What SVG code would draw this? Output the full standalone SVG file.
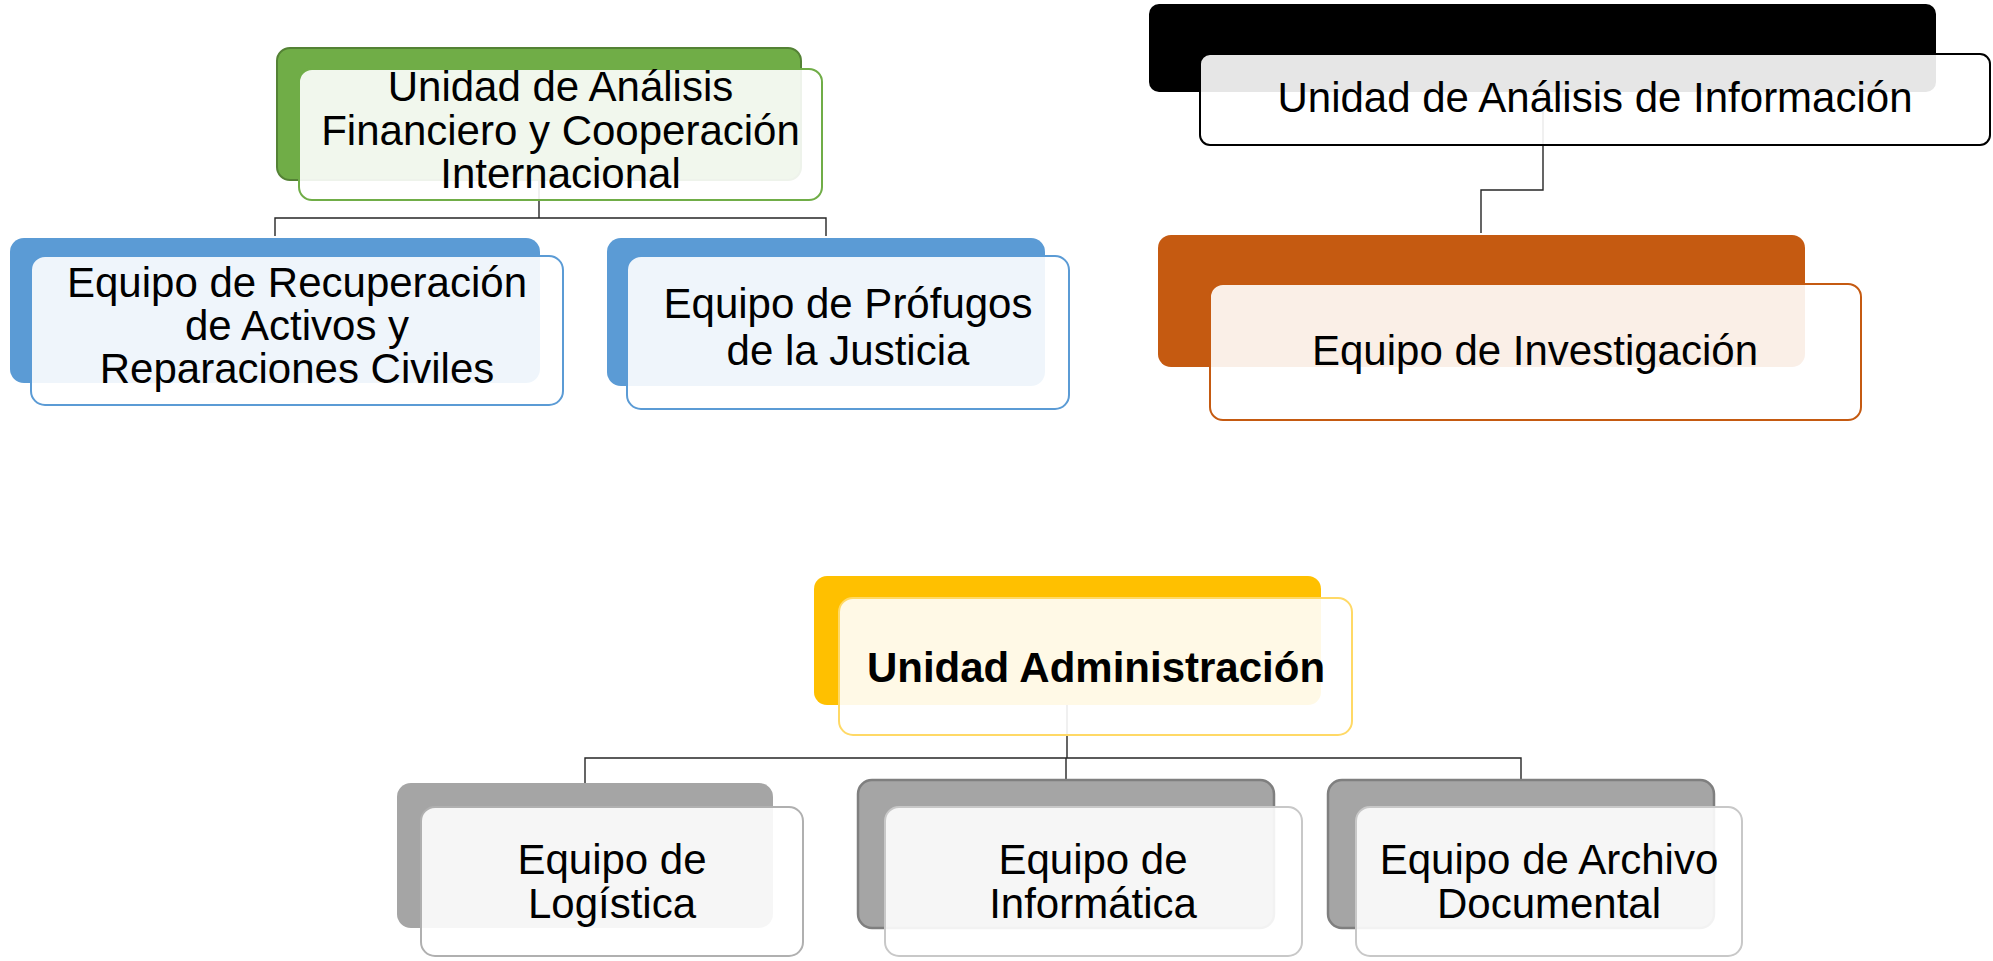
<svg xmlns="http://www.w3.org/2000/svg" width="1993" height="961" viewBox="0 0 1993 961">
<style>
.t{font-family:"Liberation Sans",Arial,sans-serif;font-size:42px;fill:#000;text-anchor:middle}
.b{font-weight:bold}
.front{fill:#fff;fill-opacity:0.9;stroke-width:2}
.conn{fill:none;stroke:#262626;stroke-width:1.4}
</style>
<rect width="1993" height="961" fill="#fff"/>
<g id="connectors">
<path class="conn" d="M539,180V218M275,236V218H826V236"/>
<path class="conn" d="M1543,92V190H1481V233"/>
<path class="conn" d="M1067,705V758M585,783V758H1521V780M1066,758V780"/>
</g>
<g id="node-uafci">
<rect x="277" y="48" width="524" height="132" rx="13" fill="#70AD47" stroke="#548235" stroke-width="2"/>
<rect class="front" x="299" y="69" width="523" height="131" rx="13" stroke="#70AD47"/>
<text class="t" x="560.5" y="101">Unidad de Análisis</text>
<text class="t" x="560.5" y="144.5">Financiero y Cooperación</text>
<text class="t" x="560.5" y="188">Internacional</text>
</g>
<g id="node-recuperacion">
<rect x="10" y="238" width="530" height="145" rx="14" fill="#5B9BD5"/>
<rect class="front" x="31" y="256" width="532" height="149" rx="14" stroke="#5B9BD5"/>
<text class="t" x="297" y="297">Equipo de Recuperación</text>
<text class="t" x="297" y="340">de Activos y</text>
<text class="t" x="297" y="383">Reparaciones Civiles</text>
</g>
<g id="node-profugos">
<rect x="607" y="238" width="438" height="148" rx="14" fill="#5B9BD5"/>
<rect class="front" x="627" y="256" width="442" height="153" rx="14" stroke="#5B9BD5"/>
<text class="t" x="848" y="318">Equipo de Prófugos</text>
<text class="t" x="848" y="365">de la Justicia</text>
</g>
<g id="node-uai">
<rect x="1149" y="4" width="787" height="88" rx="10" fill="#000"/>
<rect class="front" x="1200" y="54" width="790" height="91" rx="10" stroke="#000"/>
<text class="t" x="1595" y="112">Unidad de Análisis de Información</text>
</g>
<g id="node-investigacion">
<rect x="1158" y="235" width="647" height="132" rx="13" fill="#C55A11"/>
<rect class="front" x="1210" y="284" width="651" height="136" rx="13" stroke="#C55A11"/>
<text class="t" x="1535" y="365">Equipo de Investigación</text>
</g>
<g id="node-administracion">
<rect x="814" y="576" width="507" height="129" rx="13" fill="#FFC000"/>
<rect class="front" x="839" y="598" width="513" height="137" rx="14" stroke="#FFD966" stroke-width="2.5"/>
<text class="t b" x="1096" y="682">Unidad Administración</text>
</g>
<g id="node-logistica">
<rect x="397" y="783" width="376" height="145" rx="14" fill="#A5A5A5"/>
<rect class="front" x="421" y="807" width="382" height="149" rx="14" stroke="#B0B0B0" stroke-width="2.5"/>
<text class="t" x="612" y="874">Equipo de</text>
<text class="t" x="612" y="918">Logística</text>
</g>
<g id="node-informatica">
<rect x="858" y="780" width="416" height="148" rx="14" fill="#A5A5A5" stroke="#7F7F7F" stroke-width="2.5"/>
<rect class="front" x="885" y="807" width="417" height="149" rx="14" stroke="#C8C8C8" stroke-width="2.5"/>
<text class="t" x="1093" y="874">Equipo de</text>
<text class="t" x="1093" y="918">Informática</text>
</g>
<g id="node-archivo">
<rect x="1328" y="780" width="386" height="148" rx="14" fill="#A5A5A5" stroke="#7F7F7F" stroke-width="2.5"/>
<rect class="front" x="1356" y="807" width="386" height="149" rx="14" stroke="#C8C8C8" stroke-width="2.5"/>
<text class="t" x="1549" y="874">Equipo de Archivo</text>
<text class="t" x="1549" y="918">Documental</text>
</g>
</svg>
